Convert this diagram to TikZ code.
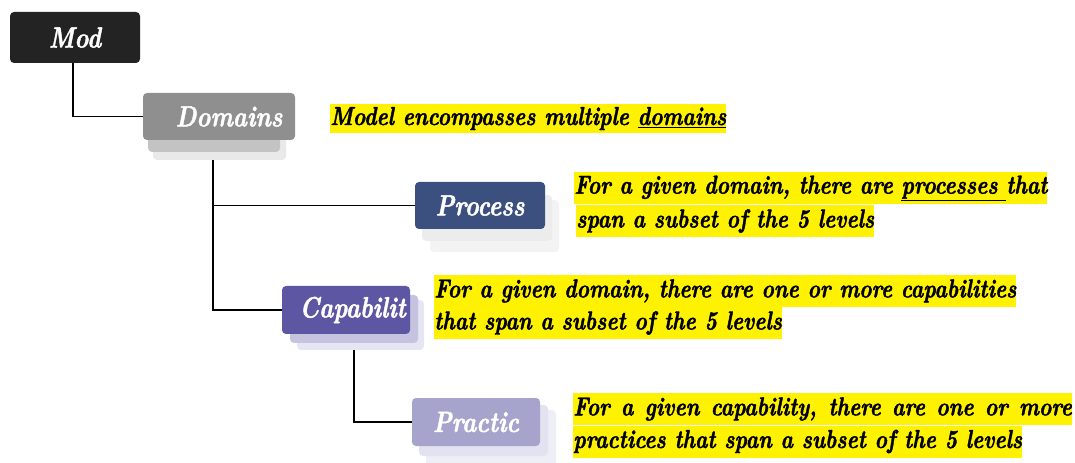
\documentclass[tikz,border=0pt]{standalone}
\usepackage{fontspec}
\usetikzlibrary{backgrounds}

\newfontfamily\boldslant{lmroman10}[Extension=.otf, UprightFont=*-regular,
    BoldFont=*-bold, ItalicFont=*-italic, BoldItalicFont=*-bolditalic,
    FakeStretch=0.81, FakeBold=1.5]

\definecolor{modfill}{HTML}{232323}
\definecolor{domfill}{HTML}{8F8F8F}
\definecolor{domlayA}{HTML}{C3C3C3}
\definecolor{domlayB}{HTML}{E9E9E9}
\definecolor{procfill}{HTML}{3C5080}
\definecolor{proclayA}{HTML}{ECECEC}
\definecolor{proclayB}{HTML}{F3F3F3}
\definecolor{capfill}{HTML}{5C56A3}
\definecolor{caplayA}{HTML}{C5C3DF}
\definecolor{caplayB}{HTML}{E6E5F3}
\definecolor{pracfill}{HTML}{A6A4CC}
\definecolor{praclayA}{HTML}{E3E2F0}
\definecolor{praclayB}{HTML}{EEEEF6}

\tikzset{
    box/.style={rounded corners=3pt, inner sep=0pt, text=white,
        font=\boldslant\bfseries\itshape\fontsize{22}{24}\selectfont},
    layer/.style={rounded corners=3pt},
    note/.style={anchor=west, fill=yellow, inner sep=0pt, minimum height=24pt,
        font=\boldslant\bfseries\itshape\fontsize{19.5}{22}\selectfont},
    link/.style={line width=0.8pt}
}

\begin{document}
\begin{tikzpicture}[x=0.75pt, y=-0.75pt]
    \useasboundingbox (0,0) rectangle (1075,463);
    % boxes
    \node[box, fill=modfill, minimum width=97.5pt, minimum height=38.25pt] (mod) at (75,37.5) {Mod};
    \node[box, fill=domfill, minimum width=114pt, minimum height=35.25pt] (dom) at (219,116.5) {\hspace*{15pt}Domains};
    \node[box, fill=procfill, minimum width=97.5pt, minimum height=35.25pt] (proc) at (480,205.5) {Process};
    \node[box, fill=capfill, minimum width=96pt, minimum height=36pt] (cap) at (346,310) {\hspace*{10pt}Capabilit};
    \node[box, fill=pracfill, minimum width=96pt, minimum height=36pt] (prac) at (476,422) {Practic};
    % notes
    \node[note, minimum height=21.75pt] (domnote) at (330,118.5) {Model encompasses multiple \underline{domains}};
    \node[note] (procnote1) at (574,188.5) {For a given domain, there are \underline{processes\ }that};
    \node[note] (procnote2) at (576,221) {span a subset of the 5 levels};
    \node[note] (capnote1) at (434,291) {For a given domain, there are one or more capabilities};
    \node[note] (capnote2) at (434,323) {that span a subset of the 5 levels};
    \node[note] (pracnote1) at (573,409) {\makebox[374pt][s]{For a given capability, there are one or more}};
    \node[note] (pracnote2) at (573,441.5) {practices that span a subset of the 5 levels};
    \begin{scope}[on background layer]
        % connectors
        \draw[link] ([xshift=-1.5pt]mod.south) |- (dom.west);
        \draw[link] ([xshift=-4.5pt]dom.south) |- (proc.west);
        \draw[link] ([xshift=-4.5pt]dom.south) |- (cap.west);
        \draw[link] ([xshift=6pt]cap.south) |- (prac.west);
        % stacked layers
        \fill[layer, domlayB] (153,120) rectangle (286,160);
        \fill[layer, domlayA] (148,110) rectangle (280,152);
        \fill[layer, proclayB] (430,200) rectangle (559,252);
        \fill[layer, proclayA] (422,195) rectangle (552,241);
        \fill[layer, caplayB] (297,300) rectangle (424,350);
        \fill[layer, caplayA] (290,295) rectangle (418,343);
        \fill[layer, praclayB] (426,410) rectangle (556,472);
        \fill[layer, praclayA] (419,405) rectangle (548,456);
    \end{scope}
\end{tikzpicture}
\end{document}
